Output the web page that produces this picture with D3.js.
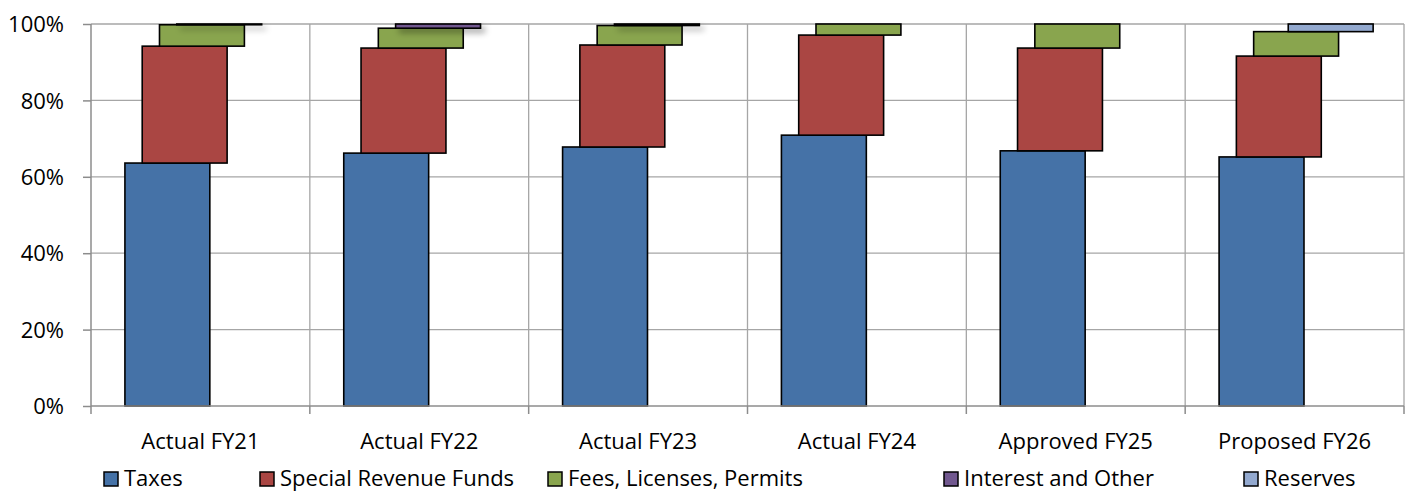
<!DOCTYPE html>
<html><head><meta charset="utf-8">
<script src="https://cdn.jsdelivr.net/npm/d3@7"></script>
<style>body{margin:0;background:#fff}svg{display:block}text{font-family:"Open Sans",sans-serif;fill:#000}</style>
</head><body><svg id="c" width="1406" height="491"></svg>
<script>
const categories = ["Actual FY21","Actual FY22","Actual FY23","Actual FY24","Approved FY25","Proposed FY26"];
const seriesNames = ["Taxes","Special Revenue Funds","Fees, Licenses, Permits","Interest and Other","Reserves"];
const taxes = [63.6, 66.2, 67.8, 70.9, 66.8, 65.2];
const specialRevenue = [30.6, 27.5, 26.7, 26.2, 26.9, 26.4];
const fees = [5.6, 5.2, 5.1, 2.9, 6.3, 6.4];
const interest = [0.2, 1.1, 0.4, 0, 0, 0];
const reserves = [0, 0, 0, 0, 0, 2.0];
const yTicks = [0, 20, 40, 60, 80, 100];
const colors = ["#4572A7","#AA4643","#89A54E","#71588F","#93A9CF"];

(function(){
const seriesVals = [taxes, specialRevenue, fees, interest, reserves];
const rows = categories.map((c,i)=>{const o={cat:c}; seriesNames.forEach((s,j)=>o[s]=seriesVals[j][i]); return o;});
const stacked = d3.stack().keys(seriesNames)(rows);

const svg = d3.select("#c");
const L = 91, R = 1404, T = 24, B = 406;
const x = d3.scaleBand().domain(categories).range([L,R]).padding(0);
const y = d3.scaleLinear().domain([0,100]).range([B,T]);
const bw = x.bandwidth();
const barW = bw*0.388;
const off = d3.scaleLinear().domain([0,4]).range([bw*0.155, bw*0.155 + 4*bw*0.079]);

const defs = svg.append("defs");
const f = defs.append("filter").attr("id","sh").attr("x","-20%").attr("y","-200%").attr("width","150%").attr("height","600%");
f.append("feGaussianBlur").attr("in","SourceAlpha").attr("stdDeviation",3).attr("result","b");
f.append("feOffset").attr("in","b").attr("dx",4).attr("dy",4).attr("result","o");
f.append("feComponentTransfer").attr("in","o").attr("result","o2").append("feFuncA").attr("type","linear").attr("slope",0.35);
const m = f.append("feMerge"); m.append("feMergeNode").attr("in","o2"); m.append("feMergeNode").attr("in","SourceGraphic");

svg.append("g").selectAll("line").data(yTicks.filter(d=>d>0)).join("line")
  .attr("x1",L).attr("x2",R).attr("y1",d=>y(d)).attr("y2",d=>y(d))
  .attr("stroke","#a6a6a6").attr("stroke-width",1.3);
svg.append("g").selectAll("line").data(categories).join("line")
  .attr("x1",d=>x(d)+bw).attr("x2",d=>x(d)+bw).attr("y1",T).attr("y2",B)
  .attr("stroke","#a6a6a6").attr("stroke-width",1.3);

stacked.forEach((s,j)=>{
  const g = svg.append("g");
  if (j===3) g.attr("filter","url(#sh)");
  g.selectAll("rect").data(s.filter(d=>d[1]-d[0]>0)).join("rect")
    .attr("x",d=>x(d.data.cat)+off(j)).attr("width",barW)
    .attr("y",d=>y(d[1])).attr("height",d=>y(d[0])-y(d[1]))
    .attr("fill",colors[j]).attr("stroke","#000").attr("stroke-width",1.6);
});

const ya = svg.append("g").attr("transform",`translate(${L},0)`)
  .call(d3.axisLeft(y).tickValues(yTicks).tickFormat(d=>d+"%").tickSize(8).tickPadding(19));
ya.select(".domain").attr("stroke","#8c8c8c").attr("stroke-width",1.5).attr("d",`M0,${T}V${B}`);
ya.selectAll(".tick line").attr("stroke","#8c8c8c").attr("stroke-width",1.5);
ya.selectAll("text").style("font-size","22px").attr("dy","0.35em");

const xa = svg.append("g").attr("transform",`translate(0,${B})`)
  .call(d3.axisBottom(x).tickSize(0).tickPadding(27));
xa.select(".domain").attr("stroke","#8c8c8c").attr("stroke-width",1.5).attr("d",`M${L},0H${R}`);
xa.selectAll("text").style("font-size","22px");
svg.append("g").selectAll("line").data([L].concat(categories.map(c=>x(c)+bw))).join("line")
  .attr("x1",d=>d).attr("x2",d=>d).attr("y1",B).attr("y2",B+8)
  .attr("stroke","#8c8c8c").attr("stroke-width",1.5);

const legX = [104, 260, 548, 944, 1244];
const lg = svg.append("g").selectAll("g").data(seriesNames).join("g")
  .attr("transform",(d,i)=>`translate(${legX[i]},472)`);
lg.append("rect").attr("width",14).attr("height",14).attr("fill",(d,i)=>colors[i]).attr("stroke","#000").attr("stroke-width",1.5);
lg.append("text").attr("x",20).attr("y",14).style("font-size","22px").text(d=>d);
})();
</script></body></html>
